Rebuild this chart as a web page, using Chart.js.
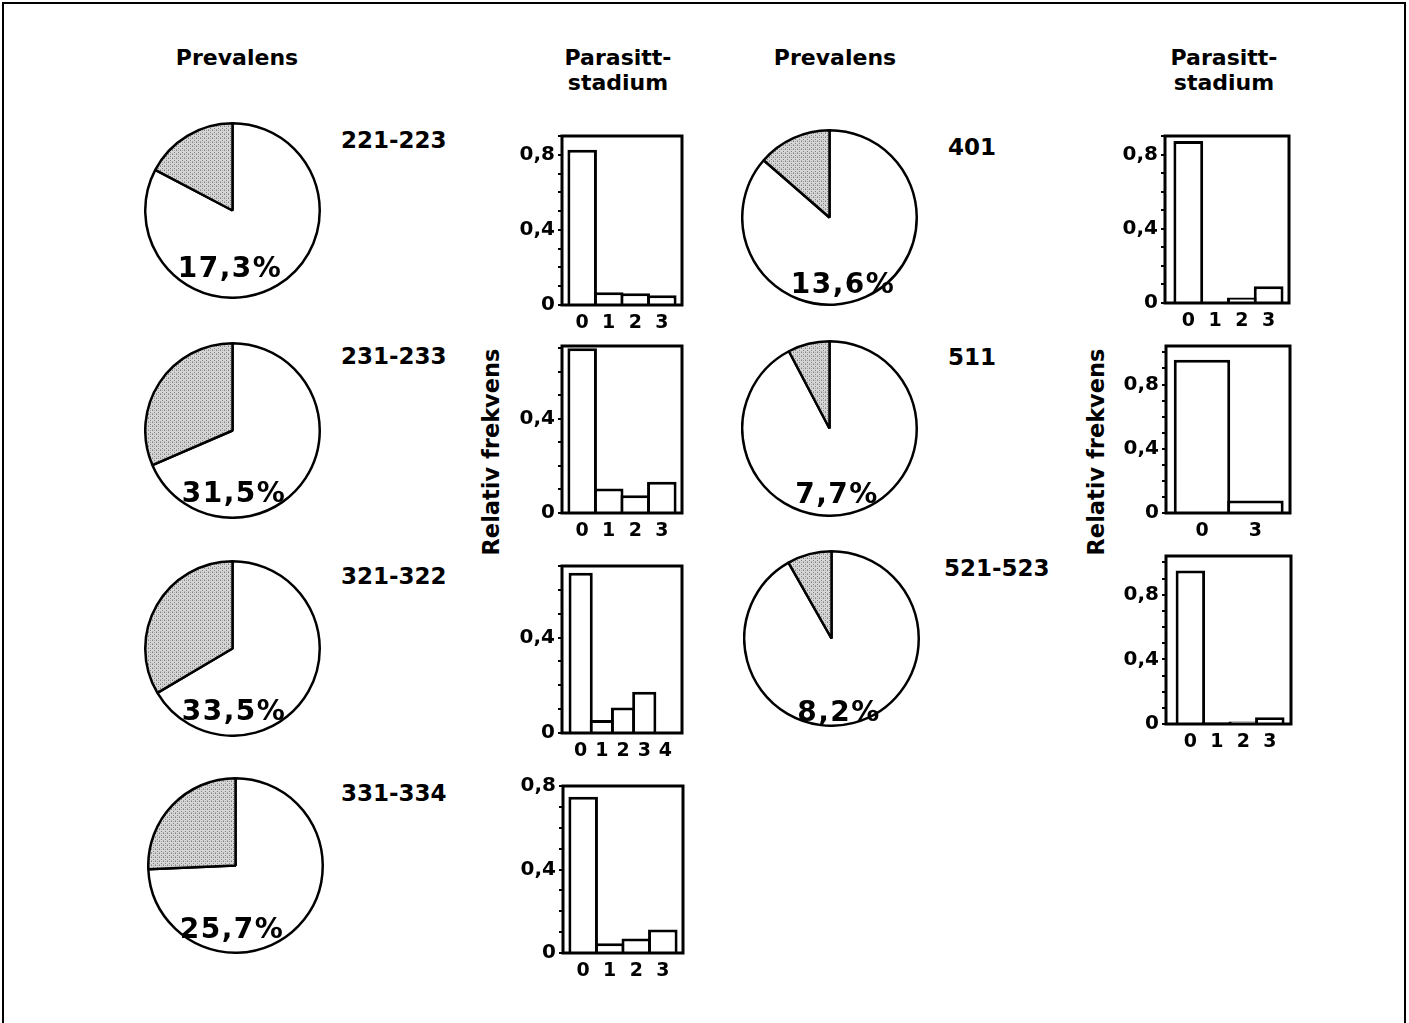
<!DOCTYPE html>
<html>
<head>
<meta charset="utf-8">
<script src="https://cdn.jsdelivr.net/npm/chart.js@4.4.1/dist/chart.umd.min.js"></script>
<style>
  body { margin: 0; background: #fff; font-family: "DejaVu Sans", sans-serif; }
  #page { position: relative; width: 1409px; height: 1023px; overflow: hidden; }
  #frame { position: absolute; left: 2px; top: 2px; width: 1400px; height: 1060px; border: 2.5px solid #000; }
  canvas { position: absolute; }
  .txt { position: absolute; font-weight: 700; color: #000; white-space: nowrap; line-height: 1; }
  .head { font-size: 22px; text-align: center; transform: translate(-50%, -50%); line-height: 25px; }
  .code { font-size: 23px; transform: translateY(-50%); }
  .pct { font-size: 28px; letter-spacing: 1.5px; transform: translate(-50%, -50%); }
  .ytitle { font-size: 22.5px; transform: translate(-50%, -50%) rotate(-90deg); }
</style>
</head>
<body>
<div id="page">
  <div id="frame"></div>
</div>
<script>
// prevalens per grupp
const groupCodes = ['221-223', '231-233', '321-322', '331-334', '401', '511', '521-523'];
const prevalence = [17.3, 31.5, 33.5, 25.7, 13.6, 7.7, 8.2];
const prevalenceLabels = ['17,3%', '31,5%', '33,5%', '25,7%', '13,6%', '7,7%', '8,2%'];

// parasittstadium, relativ frekvens
const stages = [[0, 1, 2, 3], [0, 1, 2, 3], [0, 1, 2, 3, 4], [0, 1, 2, 3], [0, 1, 2, 3], [0, 3], [0, 1, 2, 3]];
const freq221 = [0.827, 0.068, 0.063, 0.052];
const freq231 = [0.70, 0.104, 0.075, 0.133];
const freq321 = [0.672, 0.054, 0.107, 0.173, 0.004];
const freq331 = [0.748, 0.047, 0.07, 0.113];
const freq401 = [0.873, 0.006, 0.03, 0.09];
const freq511 = [0.955, 0.078];
const freq521 = [0.95, 0.012, 0.015, 0.042];
const frequencies = [freq221, freq231, freq321, freq331, freq401, freq511, freq521];
const yMax = [0.9, 0.71, 0.70, 0.80, 0.90, 1.04, 1.04];

const yTickValues = [0, 0.4, 0.8];
const yTickLabels = ['0', '0,4', '0,8'];

// layout (px)
const pieCenters = [[232, 210], [232, 430], [232, 648], [235, 865], [829, 217], [829, 428], [831, 638]];
const pieRadius = 87;
const codePos = [[341, 140], [341, 356], [341, 576], [341, 793], [948, 147], [948, 357], [944, 568]];
const pctPos = [[230, 268], [234, 493], [234, 711], [232, 929], [843, 284], [837, 494], [839, 712]];
// plot area: left, top, right, zero line
const plotBoxes = [
    [562, 133, 682, 305], [562, 343, 682, 513], [562, 563, 682, 733], [563, 783, 683, 953],
    [1165, 133, 1289, 303], [1166, 343, 1290, 513], [1166, 553, 1291, 724]
];
const xRange = [[-0.76, 3.76], [-0.76, 3.76], [-0.88, 4.78], [-0.76, 3.76], [-0.87, 3.76], [-2.02, 4.94], [-0.92, 3.8]];
const BAR_LINE = 3;

const page = document.getElementById('page');
const FONT = '"DejaVu Sans", sans-serif';

function addText (cls, text, x, y) {
    const d = document.createElement('div');
    d.className = 'txt ' + cls;
    d.innerHTML = text;
    d.style.left = x + 'px';
    d.style.top = y + 'px';
    page.appendChild(d);
}

function addCanvas (left, top, w, h) {
    const c = document.createElement('canvas');
    c.width = w;
    c.height = h;
    c.style.left = left + 'px';
    c.style.top = top + 'px';
    c.style.width = w + 'px';
    c.style.height = h + 'px';
    page.appendChild(c);
    return c;
}

// stipple fill for the shaded slice
function stipple () {
    const p = document.createElement('canvas');
    p.width = 4;
    p.height = 4;
    const ctx = p.getContext('2d');
    ctx.fillStyle = '#d6d6d6';
    ctx.fillRect(0, 0, 4, 4);
    ctx.fillStyle = '#808080';
    ctx.fillRect(0, 0, 1, 1);
    ctx.fillRect(2, 2, 1, 1);
    ctx.fillStyle = '#a8a8a8';
    ctx.fillRect(2, 0, 1, 1);
    ctx.fillRect(0, 3, 1, 1);
    return ctx.createPattern(p, 'repeat');
}
const shade = stipple();

const framePlugin = {
    id: 'frame',
    afterDraw (chart) {
        const { ctx, chartArea } = chart;
        ctx.save();
        ctx.strokeStyle = '#000';
        ctx.lineWidth = 3;
        ctx.strokeRect(chartArea.left, chartArea.top, chartArea.right - chartArea.left, chartArea.bottom - chartArea.top);
        ctx.restore();
    }
};

// headers
addText('head', 'Prevalens', 237, 57);
addText('head', 'Parasitt-<br>stadium', 618, 70);
addText('head', 'Prevalens', 835, 57);
addText('head', 'Parasitt-<br>stadium', 1224, 70);
addText('ytitle', 'Relativ frekvens', 491, 452);
addText('ytitle', 'Relativ frekvens', 1096, 452);

groupCodes.forEach((code, i) => {
    const [cx, cy] = pieCenters[i];
    const size = pieRadius * 2 + 3;
    const canvas = addCanvas(cx - size / 2, cy - size / 2, size, size);

    new Chart(canvas, {
        type: 'pie',
        data: {
            labels: ['negativ', 'positiv'],
            datasets: [{
                data: [100 - prevalence[i], prevalence[i]],
                backgroundColor: ['#ffffff', shade],
                borderColor: '#000',
                borderWidth: 2.5
            }]
        },
        options: {
            responsive: false,
            animation: false,
            layout: { padding: 0 },
            plugins: { legend: { display: false }, tooltip: { enabled: false } }
        }
    });

    addText('code', code, codePos[i][0], codePos[i][1]);
    addText('pct', prevalenceLabels[i], pctPos[i][0], pctPos[i][1]);
});

frequencies.forEach((values, i) => {
    const [left, top, right, zero] = plotBoxes[i];
    const yAxisW = 50;
    const xAxisH = 34;
    const padTop = 12;
    const padRight = 4;
    const canvas = addCanvas(left - yAxisW, top - padTop, yAxisW + (right - left) + padRight, padTop + (zero - top) + xAxisH);
    const xs = stages[i];

    // neighbouring bars overlap by one line width so they share an edge
    const pxPerStep = (right - left) / (xRange[i][1] - xRange[i][0]) * (xs[1] - xs[0]);
    const overlap = 1 + BAR_LINE / pxPerStep;

    new Chart(canvas, {
        type: 'bar',
        data: {
            datasets: [{
                data: xs.map((x, k) => ({ x: x, y: values[k] })),
                backgroundColor: '#fff',
                borderColor: '#000',
                borderWidth: BAR_LINE,
                barPercentage: overlap,
                categoryPercentage: 1
            }]
        },
        options: {
            responsive: false,
            animation: false,
            layout: { padding: { top: padTop, right: padRight, left: 0, bottom: 0 } },
            plugins: { legend: { display: false }, tooltip: { enabled: false } },
            scales: {
                x: {
                    type: 'linear',
                    offset: false,
                    min: xRange[i][0],
                    max: xRange[i][1],
                    afterBuildTicks: (scale) => {
                        scale.ticks = xs.map(v => ({ value: v }));
                    },
                    afterFit: (scale) => { scale.height = xAxisH; },
                    grid: { display: false, drawTicks: false },
                    border: { display: false },
                    ticks: {
                        autoSkip: false,
                        maxRotation: 0,
                        padding: 7,
                        color: '#000',
                        font: { family: FONT, size: 19, weight: 'bold' },
                        callback: (value) => String(value)
                    }
                },
                y: {
                    min: 0,
                    max: yMax[i],
                    afterFit: (scale) => { scale.width = yAxisW; },
                    grid: { drawOnChartArea: false, drawTicks: true, tickLength: 4, color: '#000', lineWidth: 2 },
                    border: { display: false },
                    ticks: {
                        stepSize: 0.1,
                        includeBounds: false,
                        autoSkip: false,
                        padding: 3,
                        color: '#000',
                        font: { family: FONT, size: 20, weight: 'bold' },
                        callback: (value) => {
                            const k = yTickValues.findIndex(v => Math.abs(v - value) < 1e-6);
                            return k >= 0 ? yTickLabels[k] : '';
                        }
                    }
                }
            }
        },
        plugins: [framePlugin]
    });
});
</script>
</body>
</html>
